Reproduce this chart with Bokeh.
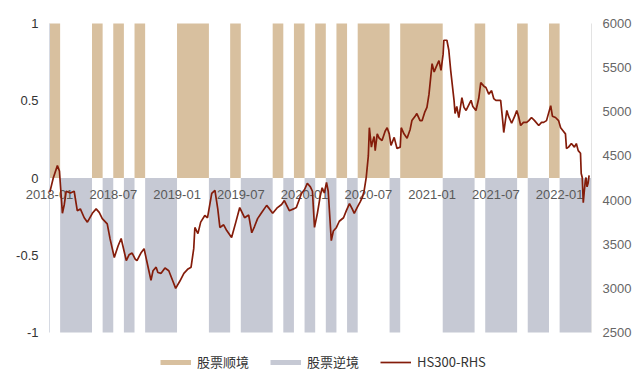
import pandas as pd
from bokeh.plotting import figure
from bokeh.models import ColumnDataSource, Range1d, LinearAxis, FixedTicker, Legend, LegendItem
from bokeh.core.properties import value
from bokeh.embed import file_html
from bokeh.resources import INLINE

# ---------------- data ----------------
month_labels = [str(p) for p in pd.period_range("2018-01", "2022-03", freq="M")]
# 1 = 股票顺境, -1 = 股票逆境
regime = [1, -1, -1, -1, 1, -1, 1, -1, 1, -1, -1, -1,          # 2018
          1, 1, 1, -1, -1, 1, -1, -1, -1, 1, -1, 1,             # 2019
          -1, 1, -1, 1, -1, 1, 1, 1, -1, 1, 1, 1,               # 2020
          1, -1, -1, -1, 1, -1, -1, -1, 1, -1, -1, 1,           # 2021
          -1, -1, -1]                                           # 2022

x_tick_labels = ["2018-01", "2018-07", "2019-01", "2019-07", "2020-01",
                 "2020-07", "2021-01", "2021-07", "2022-01"]
left_ticks = [-1, -0.5, 0, 0.5, 1]
left_tick_labels = ["-1", "-0.5", "0", "0.5", "1"]
right_ticks = [2500, 3000, 3500, 4000, 4500, 5000, 5500, 6000]
right_min, right_max = 2500, 6000

hs300_dates = [
    "2018-01-02", "2018-01-12", "2018-01-24", "2018-01-30", "2018-02-07", "2018-02-12", "2018-02-17",
    "2018-02-28", "2018-03-11", "2018-03-20", "2018-03-29", "2018-04-09", "2018-04-18", "2018-05-02",
    "2018-05-13", "2018-05-22", "2018-05-31", "2018-06-14", "2018-06-22", "2018-07-04", "2018-07-15",
    "2018-07-24", "2018-08-08", "2018-08-16", "2018-08-25", "2018-09-03", "2018-09-08", "2018-09-19",
    "2018-09-28", "2018-10-09", "2018-10-18", "2018-10-24", "2018-11-02", "2018-11-07", "2018-11-16",
    "2018-11-27", "2018-12-08", "2018-12-20", "2018-12-28", "2019-01-09", "2019-01-21", "2019-02-02",
    "2019-02-10", "2019-02-17", "2019-02-20", "2019-02-28", "2019-03-08", "2019-03-20", "2019-03-28",
    "2019-04-09", "2019-04-18", "2019-04-26", "2019-05-02", "2019-05-13", "2019-05-22", "2019-06-05",
    "2019-06-17", "2019-06-28", "2019-07-12", "2019-07-24", "2019-08-02", "2019-08-10", "2019-08-19",
    "2019-08-31", "2019-09-14", "2019-09-22", "2019-10-01", "2019-10-15", "2019-10-27", "2019-11-04",
    "2019-11-18", "2019-11-30", "2019-12-08", "2019-12-23", "2020-01-01", "2020-01-09", "2020-01-18",
    "2020-01-24", "2020-01-30", "2020-02-07", "2020-02-15", "2020-02-20", "2020-02-26", "2020-03-03",
    "2020-03-08", "2020-03-17", "2020-03-23", "2020-04-01", "2020-04-09", "2020-04-21", "2020-04-29",
    "2020-05-08", "2020-05-16", "2020-05-22", "2020-05-31", "2020-06-08", "2020-06-14", "2020-06-19",
    "2020-06-25", "2020-07-01", "2020-07-04", "2020-07-10", "2020-07-12", "2020-07-18", "2020-07-21",
    "2020-07-27", "2020-08-02", "2020-08-10", "2020-08-19", "2020-08-25", "2020-08-31", "2020-09-05",
    "2020-09-14", "2020-09-22", "2020-10-01", "2020-10-04", "2020-10-12", "2020-10-21", "2020-10-30",
    "2020-11-04", "2020-11-13", "2020-11-18", "2020-11-27", "2020-12-03", "2020-12-11", "2020-12-17",
    "2020-12-23", "2021-01-01", "2021-01-07", "2021-01-12", "2021-01-21", "2021-01-27", "2021-02-02",
    "2021-02-04", "2021-02-12", "2021-02-17", "2021-02-22", "2021-03-03", "2021-03-06", "2021-03-11",
    "2021-03-17", "2021-03-26", "2021-04-01", "2021-04-07", "2021-04-15", "2021-04-21", "2021-04-26",
    "2021-05-05", "2021-05-13", "2021-05-19", "2021-05-28", "2021-06-03", "2021-06-11", "2021-06-19",
    "2021-06-25", "2021-07-01", "2021-07-09", "2021-07-15", "2021-07-21", "2021-07-24", "2021-08-02",
    "2021-08-07", "2021-08-16", "2021-08-25", "2021-08-31", "2021-09-05", "2021-09-11", "2021-09-19",
    "2021-09-28", "2021-10-04", "2021-10-12", "2021-10-21", "2021-11-02", "2021-11-10", "2021-11-16",
    "2021-11-24", "2021-12-06", "2021-12-11", "2021-12-20", "2021-12-29", "2022-01-04", "2022-01-12",
    "2022-01-18", "2022-01-21", "2022-01-27", "2022-02-04", "2022-02-12", "2022-02-17", "2022-02-22",
    "2022-02-28", "2022-03-02", "2022-03-05", "2022-03-08", "2022-03-11", "2022-03-14", "2022-03-16",
    "2022-03-19", "2022-03-22", "2022-03-25",
]
hs300_values = [
    4090, 4250, 4390, 4330, 3850, 3950, 4100,
    4080, 4100, 3880, 3900, 3800, 3750, 3850,
    3900, 3860, 3790, 3730, 3560, 3350, 3480,
    3565, 3315, 3380, 3400, 3330, 3315, 3400,
    3450, 3250, 3090, 3200, 3240, 3180, 3170,
    3230, 3200, 3080, 3000, 3080, 3170, 3220,
    3240, 3450, 3690, 3620, 3750, 3825, 3800,
    4075, 4110, 3900, 3690, 3720, 3655, 3575,
    3750, 3915, 3800, 3830, 3630, 3700, 3790,
    3860, 3940, 3900, 3850, 3915, 3950, 3995,
    3880, 3900, 3915, 4075, 4120, 4190, 4150,
    4100, 3690, 3850, 4050, 4140, 4080, 4200,
    4100, 3540, 3650, 3690, 3760, 3800, 3880,
    3960, 3900, 3850, 3920, 3980, 4030, 4100,
    4255, 4500, 4820, 4600, 4640, 4720, 4560,
    4750, 4700, 4675, 4780, 4820, 4750, 4620,
    4710, 4585, 4600, 4820, 4750, 4700, 4800,
    4900, 4950, 4980, 4900, 4900, 5000, 5050,
    5200, 5545, 5450, 5500, 5580, 5470, 5650,
    5810, 5810, 5700, 5470, 5130, 4980, 5060,
    4935, 5160, 5050, 5015, 5080, 5130, 5060,
    5015, 5150, 5330, 5290, 5275, 5200, 5240,
    5150, 5130, 5130, 5130, 4900, 4765, 5015,
    4950, 4870, 4950, 5015, 4950, 4845, 4880,
    4880, 4900, 4935, 4900, 4845, 4880, 4880,
    4900, 5070, 4950, 4935, 4900, 4820, 4780,
    4750, 4585, 4600, 4640, 4600, 4640, 4560,
    4530, 4300, 4255, 3970, 4100, 4220, 4255,
    4150, 4190, 4280,
]

# ---------------- helpers ----------------
def month_pos(s):
    d = pd.Timestamp(s)
    return (d.year - 2018) * 12 + (d.month - 1) + (d.day - 1) / d.days_in_month

def runs(sign):
    """merge consecutive months of the same regime into one block (no seams)"""
    out = []
    for i, r in enumerate(regime):
        if r == sign:
            if out and out[-1][1] == i:
                out[-1][1] = i + 1
            else:
                out.append([i, i + 1])
    return out

n = len(regime)
up = runs(1)
dn = runs(-1)
src_up = ColumnDataSource(dict(left=[a for a, b in up], right=[b for a, b in up],
                               top=[1] * len(up), bottom=[0] * len(up)))
src_dn = ColumnDataSource(dict(left=[a for a, b in dn], right=[b for a, b in dn],
                               top=[0] * len(dn), bottom=[-1] * len(dn)))
src_line = ColumnDataSource(dict(x=[month_pos(s) for s in hs300_dates], y=hs300_values))
src_xt = ColumnDataSource(dict(x=[month_labels.index(s) for s in x_tick_labels],
                               y=[0] * len(x_tick_labels), text=x_tick_labels))
src_yt = ColumnDataSource(dict(x=[0] * len(left_ticks), y=left_ticks, text=left_tick_labels))

TAN = "#D8C09F"
GREY = "#C6C9D4"
RED = "#841C0A"
FONT = "Liberation Sans"

# layout (px): data band spans x 49..591 and y 23..332 (value 1 .. -1)
W, H = 636, 384
BAND_X0, BAND_X1 = 49, 591
BAND_Y0, BAND_Y1 = 23, 332
half = (BAND_Y1 - BAND_Y0) / 2.0                       # px per unit of the left scale
y_hi = 1 + BAND_Y0 / half
y_lo = -1 - (H - BAND_Y1) / half
r_per_unit = (right_max - right_min) / 2.0
r_hi = right_max + (y_hi - 1) * r_per_unit
r_lo = right_min - (-1 - y_lo) * r_per_unit
x_lo = -BAND_X0 * n / (BAND_X1 - BAND_X0)

p = figure(width=W, height=H, output_backend="svg", toolbar_location=None,
           x_range=Range1d(x_lo, n), y_range=Range1d(y_lo, y_hi),
           x_axis_location=None, y_axis_location=None,
           min_border_left=0, min_border_right=W - BAND_X1, min_border_top=0, min_border_bottom=0)
p.outline_line_color = None
p.grid.visible = False
p.background_fill_color = "white"
p.border_fill_color = "white"
p.extra_y_ranges = {"hs": Range1d(r_lo, r_hi)}

r_up = p.quad(left="left", right="right", top="top", bottom="bottom", source=src_up,
              fill_color=TAN, line_color=None)
r_dn = p.quad(left="left", right="right", top="top", bottom="bottom", source=src_dn,
              fill_color=GREY, line_color=None)

# faint left axis line
p.segment(x0=[0], y0=[min(left_ticks)], x1=[0], y1=[max(left_ticks)], line_color="#D6DAE3", line_width=1)

# left tick labels
p.text(x="x", y="y", text="text", source=src_yt, text_align="right", text_baseline="middle",
       x_offset=-11, text_font=value(FONT), text_font_size="13px", text_color="#333333")

# x tick labels sitting under the zero line
p.text(x="x", y="y", text="text", source=src_xt, text_align="center", text_baseline="middle",
       y_offset=16, text_font=value(FONT), text_font_size="13px", text_color="#595959")

r_line = p.line(x="x", y="y", source=src_line, y_range_name="hs", line_color=RED, line_width=1.7)

ry = LinearAxis(y_range_name="hs", ticker=FixedTicker(ticks=right_ticks), bounds=(right_min, right_max))
ry.major_tick_line_color = None
ry.minor_tick_line_color = None
ry.major_tick_out = 0
ry.major_tick_in = 0
ry.axis_line_color = "#E3E3E3"
ry.major_label_standoff = 11
ry.major_label_text_font = FONT
ry.major_label_text_font_size = "13px"
ry.major_label_text_color = "#666666"
p.add_layout(ry, "right")

# legend swatches (thick line keys as in the reference)
nan = float("nan")
k_up = p.line(x="x", y="y", source=ColumnDataSource(dict(x=[nan], y=[nan])), line_color=TAN, line_width=5)
k_dn = p.line(x="x", y="y", source=ColumnDataSource(dict(x=[nan], y=[nan])), line_color=GREY, line_width=5)

legend = Legend(items=[LegendItem(label="股票顺境", renderers=[k_up]),
                       LegendItem(label="股票逆境", renderers=[k_dn]),
                       LegendItem(label="HS300-RHS", renderers=[r_line])],
                orientation="horizontal", location=(160, 13),
                glyph_width=31, glyph_height=8, label_height=18, label_standoff=6,
                label_text_font="Noto Sans CJK SC", label_text_font_size="13px",
                label_text_color="#333333", spacing=21, padding=3, margin=0,
                border_line_color=None, background_fill_alpha=0)
p.add_layout(legend, "center")

open("out.html", "w").write(file_html(p, INLINE))
